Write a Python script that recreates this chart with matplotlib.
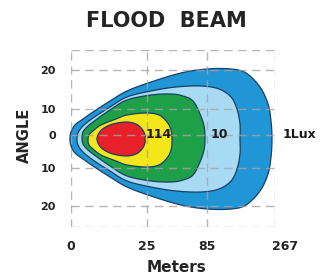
import numpy as np
import matplotlib
matplotlib.use('Agg')
import matplotlib.pyplot as plt
from matplotlib.transforms import ScaledTranslation

W, H, DPI = 323, 277, 100

# ---- Chart units: 1 unit = 1 px, x from the 0 m line, y from the 0 deg line ----
X_TICK_POS = [0, 76, 136, 204]
X_TICK_LABELS = ['0', '25', '85', '267']
Y_TICK_POS = [65, 26, 0, -33, -71]
Y_TICK_LABELS = ['20', '10', '0', '10', '20']
Y_FRAME = [85, -92]

# ---- Iso-lux outlines (upper half: x, half height) and centre offsets ----
OUTER_X = [-1, 0, 4, 12, 22, 39, 56, 80, 110, 136, 160, 175, 189, 197, 200, 201]
OUTER_H = [0, 7, 14, 20, 27, 38, 48, 57, 66, 70, 70, 66, 52, 35, 18, 0]
LIGHT_X = [6, 7, 12, 22, 39, 56, 80, 105, 130, 148, 160, 166, 169, 169]
LIGHT_H = [0, 6, 13, 21, 32, 42, 48, 52, 53, 50, 42, 30, 15, 0]
GREEN_X = [11, 12, 16, 22, 39, 56, 80, 100, 112, 122, 129, 133, 134]
GREEN_H = [0, 6, 11, 16, 28, 38, 43, 44, 42, 37, 24, 12, 0]
YELLOW_X = [17, 18, 22, 30, 45, 56, 75, 88, 96, 100, 101]
YELLOW_H = [0, 5, 9, 15, 21, 25, 27, 25, 18, 10, 0]
RED_X = [26, 28, 33, 42, 55, 65, 71, 74, 74]
RED_H = [0, 6, 11, 15, 17, 15, 10, 4, 0]
CENTRES = [-4, -4, -3, -5, -4]
FILLS = ['#2196d6', '#a9daf4', '#1ea048', '#f4e61a', '#e8202a']

LUX_LABELS = ['114', '10', '1Lux']
LUX_X = [88, 148, 212]

EDGE = '#173f66'
GRID = '#aaa2a2'
TXT = '#242424'


def smooth_closed(px, py, n=10):
    """Closed Catmull-Rom curve through the outline points."""
    p = np.column_stack([px, py])
    out = []
    m = len(p)
    for i in range(m):
        p0, p1, p2, p3 = p[i - 1], p[i], p[(i + 1) % m], p[(i + 2) % m]
        for t in np.linspace(0, 1, n, endpoint=False):
            t2, t3 = t * t, t * t * t
            out.append(0.5 * ((2 * p1) + (-p0 + p2) * t
                              + (2 * p0 - 5 * p1 + 4 * p2 - p3) * t2
                              + (-p0 + 3 * p1 - 3 * p2 + p3) * t3))
    out = np.array(out)
    return out[:, 0], out[:, 1]


def outline(xs, hs, c):
    xs = np.asarray(xs, float)
    hs = np.asarray(hs, float)
    px = np.concatenate([xs, xs[-2:0:-1]])
    py = np.concatenate([c + hs, (c - hs)[-2:0:-1]])
    return smooth_closed(px, py)


fig = plt.figure(figsize=(W / DPI, H / DPI), dpi=DPI)
ax = fig.add_axes([71 / W, 50 / H, 204 / W, 177 / H])
ax.set_xlim(0, 204)
ax.set_ylim(Y_FRAME[1], Y_FRAME[0])
for s in ax.spines.values():
    s.set_visible(False)

shapes = [(OUTER_X, OUTER_H), (LIGHT_X, LIGHT_H), (GREEN_X, GREEN_H),
          (YELLOW_X, YELLOW_H), (RED_X, RED_H)]
for k, ((xs, hs), c, fc) in enumerate(zip(shapes, CENTRES, FILLS)):
    sx, sy = outline(xs, hs, c)
    ax.fill(sx, sy, facecolor=fc, edgecolor=EDGE, linewidth=0.9,
            zorder=2 + k, clip_on=False)

# dashed grid drawn over the beam
for yv in Y_TICK_POS + Y_FRAME:
    ax.axhline(yv, color=GRID, lw=1.0, ls=(0, (6, 4)), alpha=0.8, zorder=8)
for xv in X_TICK_POS:
    ax.axvline(xv, color=GRID, lw=1.0, ls=(0, (6, 4)), alpha=0.8, zorder=8)

ax.set_xticks(X_TICK_POS)
ax.set_xticklabels(X_TICK_LABELS)
ax.set_yticks(Y_TICK_POS)
ax.set_yticklabels(Y_TICK_LABELS)
ax.tick_params(length=0, colors=TXT)
ax.tick_params(axis='x', pad=9, labelsize=9)
ax.tick_params(axis='y', pad=11, labelsize=8)
for lab in ax.get_xticklabels() + ax.get_yticklabels():
    lab.set_fontweight('bold')
last = ax.get_xticklabels()[-1]
last.set_transform(last.get_transform() + ScaledTranslation(7 / 72, 0, fig.dpi_scale_trans))

for lab, xv in zip(LUX_LABELS, LUX_X):
    ax.text(xv, 0, lab, ha='left' if lab == '1Lux' else 'center', va='center',
            fontsize=9, fontweight='bold', color='#1a1a1a', zorder=10, clip_on=False)

fig.text(166 / W, 1 - 21 / H, 'FLOOD  BEAM', ha='center', va='center',
         fontsize=15, fontweight='bold', color=TXT)
fig.text(176 / W, 1 - 268 / H, 'Meters', ha='center', va='center',
         fontsize=11, fontweight='bold', color=TXT)
fig.text(24 / W, 1 - 135 / H, 'ANGLE', ha='center', va='center', rotation=90,
         fontsize=10.5, fontweight='bold', color=TXT)

fig.savefig('out.png', dpi=DPI)
